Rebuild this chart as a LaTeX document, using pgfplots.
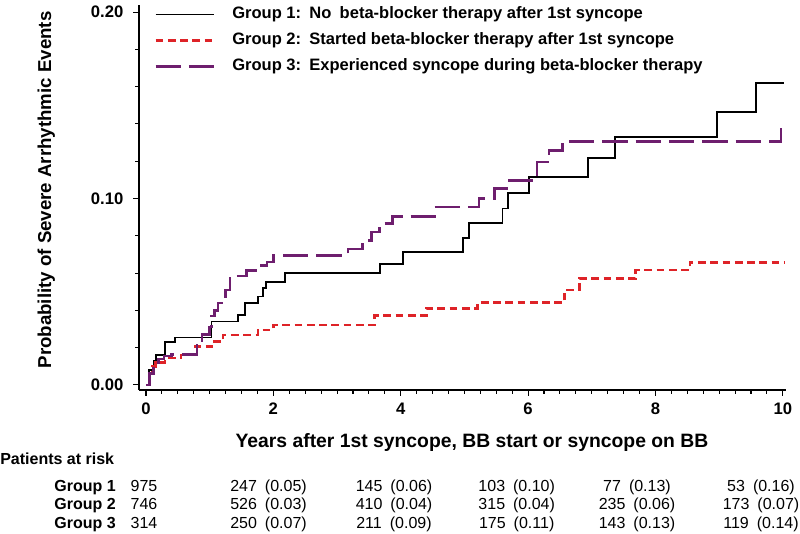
\documentclass[border=0pt]{standalone}
\usepackage{fontspec}
\setmainfont{Liberation Sans}
\usepackage{pgfplots}
\pgfplotsset{compat=1.18}
\definecolor{grpred}{RGB}{222,35,40}
\definecolor{grppurple}{RGB}{110,30,110}
\begin{document}
\begin{tikzpicture}[x=0.75pt,y=0.75pt]
\path[use as bounding box] (0,0) rectangle (800,534);
\begin{axis}[
 at={(104.25pt,108pt)}, anchor=south west,
 scale only axis, width=485.25pt, height=288.75pt,
 xmin=-0.11, xmax=10.05, ymin=-0.0027, ymax=0.2038,
 axis x line*=bottom, axis y line*=left,
 axis line style={line width=1pt, -},
 xtick={0,2,4,6,8,10}, xticklabels={0,2,4,6,8,10},
 minor x tick num=7,
 ytick={0,0.1,0.2}, yticklabels={0.00,0.10,0.20},
 minor y tick num=4,
 tick align=outside,
 major tick length=4.5pt, minor tick length=3pt,
 tick style={black, line width=0.8pt},
 ticklabel style={font=\bfseries\fontsize{12.5}{12.5}\selectfont},
 yticklabel style={xshift=-3.75pt},
 xticklabel style={yshift=-1.5pt},
 clip=false,
 legend style={at={(axis description cs:0.017,1.0)}, anchor=north west, yshift=2.8pt,
   draw=none, fill=none,
   font=\bfseries\fontsize{12.4}{12.4}\selectfont, row sep=3.8pt,
   nodes={text height=9pt, text depth=2.6pt, inner sep=2pt},
   /tikz/every odd column/.append style={column sep=11pt}},
 legend cell align=left,
 legend image code/.code={\draw[#1] (0pt,0pt) -- (43.5pt,0pt);},
]
\addplot[black, line width=1.3pt, const plot] coordinates {
(0,0) (0.05,0.008) (0.12,0.013) (0.16,0.016) (0.3,0.023) (0.45,0.0255)
(1.03,0.034) (1.45,0.0375) (1.55,0.0438) (1.76,0.0474) (1.84,0.052) (1.89,0.0554)
(2.18,0.06) (3.67,0.065) (4.04,0.0715) (4.98,0.0787) (5.07,0.0867) (5.6,0.0947)
(5.68,0.1028) (6.01,0.1117) (6.94,0.1219) (7.36,0.1328) (8.97,0.1466) (9.58,0.1618) (10.02,0.1618)};
\addlegendentry{Group 1:\enspace No\enspace beta-blocker therapy after 1st syncope}
\addplot[grpred, line width=2pt, dash pattern=on 5.8pt off 3.4pt, const plot] coordinates {
(0,0) (0.05,0.006) (0.1,0.010) (0.15,0.012) (0.3,0.0145) (0.55,0.016) (0.77,0.0205)
(1.03,0.0232) (1.21,0.0268) (1.76,0.0295) (2.0,0.0322) (3.59,0.0372) (4.4,0.0411)
(5.21,0.0441) (6.57,0.051) (6.81,0.0572) (7.69,0.0617) (8.54,0.0658) (10.02,0.0658)};
\addlegendentry{Group 2:\enspace Started beta-blocker therapy after 1st syncope}
\addplot[grppurple, line width=2pt, dash pattern=on 19pt off 6pt, const plot] coordinates {
(0,0) (0.05,0.006) (0.12,0.011) (0.2,0.014) (0.28,0.0155) (0.4,0.0165)
(0.8,0.024) (0.88,0.027) (1.0,0.031) (1.03,0.037) (1.08,0.040) (1.13,0.044) (1.25,0.051) (1.32,0.0585)
(1.58,0.0615) (1.79,0.064) (1.9,0.066) (2.0,0.0695) (3.17,0.073) (3.4,0.0775) (3.54,0.082) (3.67,0.0865)
(3.87,0.0905) (4.53,0.0955) (5.23,0.0999) (5.47,0.1052) (5.67,0.1097) (6.14,0.1195) (6.33,0.1258)
(6.54,0.1307) (9.97,0.1385) (10.02,0.1385)};
\addlegendentry{Group 3:\enspace Experienced syncope during beta-blocker therapy}
\end{axis}
% axis titles
\node[anchor=base, font=\bfseries\fontsize{14.5}{14.5}\selectfont] at (472,86.5) {Years after 1st syncope, BB start or syncope on BB};
\node[anchor=base, rotate=90, font=\bfseries\fontsize{14}{14}\selectfont] at (51,344) {Probability of Severe Arrhythmic Events};
% risk table
\node[anchor=base west, inner sep=0pt, font=\bfseries\fontsize{12}{12}\selectfont] at (0,69) {Patients at risk};
\begin{scope}[every node/.style={anchor=base, inner sep=0pt, font=\fontsize{12}{12}\selectfont}]
\node[anchor=base east, font=\bfseries\fontsize{12}{12}\selectfont] at (116,42.5) {Group 1};
\node[anchor=base east, font=\bfseries\fontsize{12}{12}\selectfont] at (116,24) {Group 2};
\node[anchor=base east, font=\bfseries\fontsize{12}{12}\selectfont] at (116,5.7) {Group 3};
\node at (144,42.5) {975};
\node at (268.5,42.5) {247\enspace(0.05)};
\node at (394,42.5) {145\enspace(0.06)};
\node at (516.7,42.5) {103\enspace(0.10)};
\node at (637,42.5) {77\enspace(0.13)};
\node at (761,42.5) {53\enspace(0.16)};
\node at (144,24) {746};
\node at (268.5,24) {526\enspace(0.03)};
\node at (394,24) {410\enspace(0.04)};
\node at (516.7,24) {315\enspace(0.04)};
\node at (637,24) {235\enspace(0.06)};
\node at (761,24) {173\enspace(0.07)};
\node at (144,5.7) {314};
\node at (268.5,5.7) {250\enspace(0.07)};
\node at (394,5.7) {211\enspace(0.09)};
\node at (516.7,5.7) {175\enspace(0.11)};
\node at (637,5.7) {143\enspace(0.13)};
\node at (761,5.7) {119\enspace(0.14)};
\end{scope}
\end{tikzpicture}
\end{document}
